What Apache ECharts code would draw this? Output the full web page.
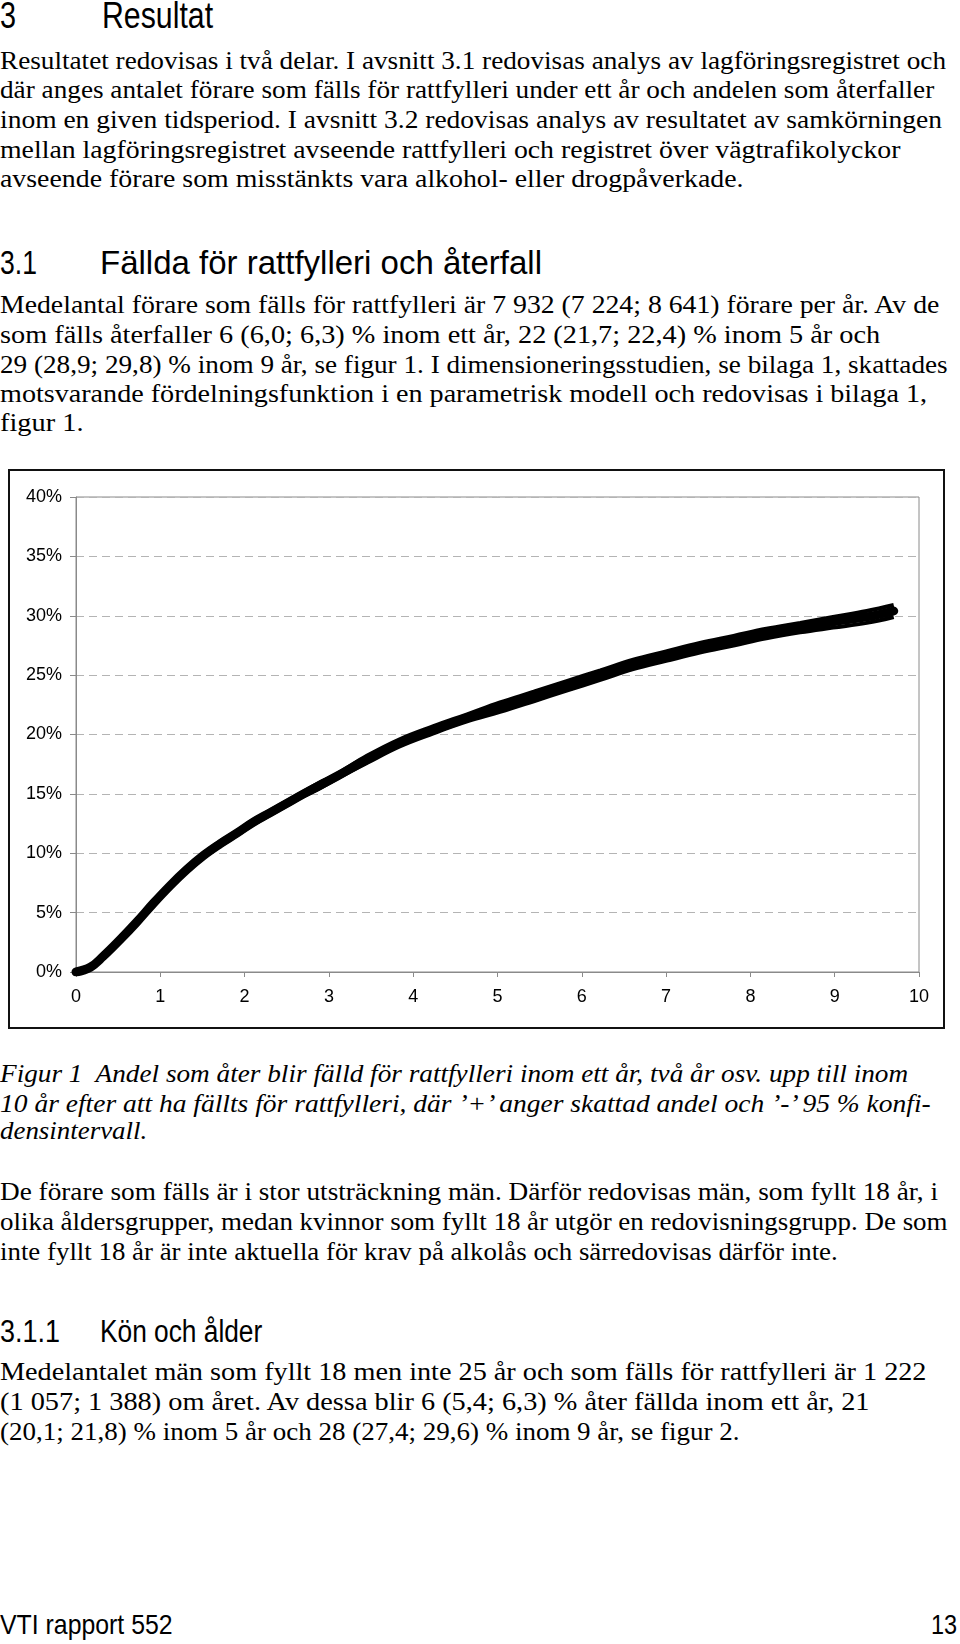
<!DOCTYPE html>
<html>
<head>
<meta charset="utf-8">
<script src="https://cdn.jsdelivr.net/npm/echarts/dist/echarts.min.js"></script>
<style>
  html, body { margin:0; padding:0; background:#fff; }
  body { width:960px; height:1644px; position:relative; overflow:hidden; }
  .t { position:absolute; white-space:pre; line-height:1; transform-origin:0 0; color:#000; }
  .serif { font-family:'Liberation Serif','Times New Roman',serif; }
  .sans { font-family:'Liberation Sans',Arial,sans-serif; }
  .it { font-style:italic; }
  #chart { position:absolute; left:0; top:469px; width:960px; height:560px; }
  #frame { position:absolute; left:8px; top:469px; width:937px; height:560px; border:2px solid #111; box-sizing:border-box; pointer-events:none; }
</style>
</head>
<body>
<div id="chart"></div>
<div id="frame"></div>
<script>
// ---- Chart data ----
var years = [0, 0.17, 0.32, 0.52, 0.72, 0.92, 1.12, 1.31, 1.51, 1.71, 1.91, 2.10, 2.30, 2.50, 2.70, 2.90, 3.10, 3.45, 3.84, 4.24, 4.64, 5.03, 5.43, 5.82, 6.22, 6.61, 7.00, 7.40, 7.80, 8.19, 8.59, 8.98, 9.38, 9.70];
var estimate = [0.0, 0.4, 1.3, 2.7, 4.2, 5.8, 7.3, 8.6, 9.8, 10.8, 11.7, 12.6, 13.4, 14.2, 15.0, 15.75, 16.5, 17.9, 19.3, 20.4, 21.4, 22.3, 23.2, 24.1, 25.0, 25.9, 26.6, 27.3, 27.9, 28.5, 29.0, 29.5, 29.9, 30.4];
var ciLower = [0.0, 0.3, 1.2, 2.6, 4.1, 5.7, 7.2, 8.5, 9.6, 10.6, 11.5, 12.4, 13.2, 14.0, 14.8, 15.5, 16.3, 17.6, 19.0, 20.1, 21.1, 21.9, 22.8, 23.7, 24.6, 25.5, 26.2, 26.9, 27.5, 28.1, 28.6, 29.0, 29.4, 29.9];
var ciUpper = [0.1, 0.5, 1.4, 2.8, 4.3, 5.9, 7.4, 8.7, 10.0, 11.0, 11.9, 12.8, 13.6, 14.4, 15.2, 16.0, 16.7, 18.2, 19.6, 20.7, 21.7, 22.7, 23.6, 24.5, 25.4, 26.3, 27.0, 27.7, 28.3, 28.9, 29.4, 29.9, 30.4, 30.9];
var xTicks = [0, 1, 2, 3, 4, 5, 6, 7, 8, 9, 10];
var yTicks = [0, 5, 10, 15, 20, 25, 30, 35, 40];

function pairs(xs, ys) { return xs.map(function (x, i) { return [x, ys[i]]; }); }

var chart = echarts.init(document.getElementById('chart'), null, { renderer: 'canvas' });
var labelFont = { fontFamily: 'Liberation Sans, Arial, sans-serif', fontSize: 18, color: '#000' };
chart.setOption({
  animation: false,
  grid: { left: 76, right: 41, top: 28, bottom: 57, show: true, borderColor: '#8a8a8a', borderWidth: 1, backgroundColor: 'transparent' },
  xAxis: {
    type: 'value', min: xTicks[0], max: xTicks[xTicks.length - 1], interval: 1,
    axisLine: { show: true, lineStyle: { color: '#8a8a8a', width: 1 } },
    axisTick: { show: true, inside: false, length: 5, lineStyle: { color: '#8a8a8a' } },
    splitLine: { show: false },
    axisLabel: Object.assign({ margin: 16 }, labelFont)
  },
  yAxis: {
    type: 'value', min: yTicks[0], max: yTicks[yTicks.length - 1], interval: 5,
    axisLine: { show: true, lineStyle: { color: '#8a8a8a', width: 1 } },
    axisTick: { show: true, inside: false, length: 6, lineStyle: { color: '#8a8a8a' } },
    splitLine: { show: true, lineStyle: { color: '#b4b4b4', width: 1, type: [8, 5] } },
    axisLabel: Object.assign({ margin: 14, formatter: '{value}%' }, labelFont)
  },
  series: [
    { type: 'line', data: pairs(years, ciLower), smooth: 0.4, symbol: 'none', lineStyle: { color: '#000', width: 4 }, z: 3 },
    { type: 'line', data: pairs(years, ciUpper), smooth: 0.4, symbol: 'none', lineStyle: { color: '#000', width: 4 }, z: 3 },
    { type: 'line', data: pairs(years, estimate), smooth: 0.4, symbol: 'none', lineStyle: { color: '#000', width: 9, cap: 'round' }, z: 4 }
  ]
});

// ---- Page text ----
function L(text, x, yc, w, cls, size, capsCenter, alignRight) {
  var d = document.createElement('div');
  d.className = 't ' + cls;
  d.style.fontSize = size + 'px';
  d.textContent = text;
  document.body.appendChild(d);
  var nat = d.offsetWidth;
  var s = w / nat;
  var top = yc - size * (capsCenter ? 0.48 : 0.56);
  d.style.top = top + 'px';
  d.style.left = (alignRight ? x - w : x) + 'px';
  d.style.transform = 'scaleX(' + s + ')';
}
var B = 26;
// Heading 1
L('3', 0, 15, 16, 'sans', 36, true);
L('Resultat', 102, 15, 111, 'sans', 36, true);
// Paragraph 1
L('Resultatet redovisas i två delar. I avsnitt 3.1 redovisas analys av lagföringsregistret och', 0, 63, 946, 'serif', B);
L('där anges antalet förare som fälls för rattfylleri under ett år och andelen som återfaller', 0, 92, 934, 'serif', B);
L('inom en given tidsperiod. I avsnitt 3.2 redovisas analys av resultatet av samkörningen', 0, 122, 942, 'serif', B);
L('mellan lagföringsregistret avseende rattfylleri och registret över vägtrafikolyckor', 0, 152, 901, 'serif', B);
L('avseende förare som misstänkts vara alkohol- eller drogpåverkade.', 0, 181, 744, 'serif', B);
// Heading 2
L('3.1', 0, 262, 37, 'sans', 33, true);
L('Fällda för rattfylleri och återfall', 100, 262, 442, 'sans', 33, true);
// Paragraph 2
L('Medelantal förare som fälls för rattfylleri är 7 932 (7 224; 8 641) förare per år. Av de', 0, 307, 939, 'serif', B);
L('som fälls återfaller 6 (6,0; 6,3) % inom ett år, 22 (21,7; 22,4) % inom 5 år och', 0, 337, 880, 'serif', B);
L('29 (28,9; 29,8) % inom 9 år, se figur 1. I dimensioneringsstudien, se bilaga 1, skattades', 0, 367, 948, 'serif', B);
L('motsvarande fördelningsfunktion i en parametrisk modell och redovisas i bilaga 1,', 0, 396, 927, 'serif', B);
L('figur 1.', 0, 425, 84, 'serif', B);
// Caption
L('Figur 1  Andel som åter blir fälld för rattfylleri inom ett år, två år osv. upp till inom', 0, 1076, 908, 'serif it', B);
L('10 år efter att ha fällts för rattfylleri, där \u2019+\u2019 anger skattad andel och \u2019-\u2019 95 % konfi-', 0, 1106, 931, 'serif it', B);
L('densintervall.', 0, 1133, 147, 'serif it', B);
// Paragraph 3
L('De förare som fälls är i stor utsträckning män. Därför redovisas män, som fyllt 18 år, i', 0, 1194, 938, 'serif', B);
L('olika åldersgrupper, medan kvinnor som fyllt 18 år utgör en redovisningsgrupp. De som', 0, 1224, 948, 'serif', B);
L('inte fyllt 18 år är inte aktuella för krav på alkolås och särredovisas därför inte.', 0, 1254, 838, 'serif', B);
// Heading 3
L('3.1.1', 0, 1331, 60, 'sans', 31, true);
L('Kön och ålder', 100, 1331, 162, 'sans', 31, true);
// Paragraph 4
L('Medelantalet män som fyllt 18 men inte 25 år och som fälls för rattfylleri är 1 222', 0, 1374, 926, 'serif', B);
L('(1 057; 1 388) om året. Av dessa blir 6 (5,4; 6,3) % åter fällda inom ett år, 21', 0, 1404, 870, 'serif', B);
L('(20,1; 21,8) % inom 5 år och 28 (27,4; 29,6) % inom 9 år, se figur 2.', 0, 1434, 739, 'serif', B);
// Footer
L('VTI rapport 552', 0, 1624, 173, 'sans', 28, true);
L('13', 957, 1624, 26, 'sans', 28, true, true);
</script>
</body>
</html>
